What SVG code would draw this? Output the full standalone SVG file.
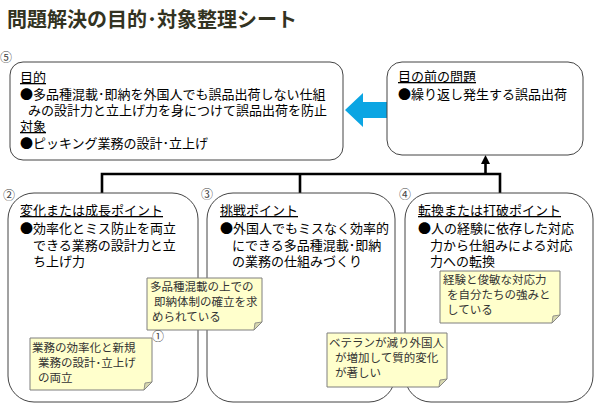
<svg xmlns="http://www.w3.org/2000/svg" width="600" height="415" viewBox="0 0 600 415">
<style>
.t{font-family:"Noto Sans CJK JP","Liberation Sans",sans-serif;font-size:13px;fill:#000}
.h{text-decoration:underline}
.n{font-family:"Noto Sans CJK JP","Liberation Sans",sans-serif;font-size:11.5px;fill:#333}
.c{font-family:"Noto Sans CJK JP","DejaVu Sans",sans-serif;font-size:12px;fill:#444}
.box{fill:#fff;stroke:#444;stroke-width:1}
.note{fill:#ffffcc;stroke:#7f7f7f;stroke-width:1}
.fold{fill:#d8d8b0;stroke:#7f7f7f;stroke-width:0.8}
.con{fill:none;stroke:#000;stroke-width:2.6}
</style>
<rect width="600" height="415" fill="#fff"/>
<text x="7" y="27" font-family="'Noto Sans CJK JP','Liberation Sans',sans-serif" font-size="20" font-weight="bold" fill="#333322">問題解決の目的･対象整理シート</text>

<g id="connectors">
<polyline class="con" points="102,193 102,174 500,174 500,193"/>
<line class="con" x1="300" y1="174" x2="300" y2="193"/>
<line class="con" x1="485.5" y1="174" x2="485.5" y2="163"/>
<polygon points="485.5,155 481,164 490,164" fill="#000"/>
<polygon points="345,110 363,93 363,102 387,102 387,118 363,118 363,127" fill="#0ba5e3"/>
</g>

<g id="n5">
<text class="c" x="0" y="62">⑤</text>
<rect class="box" x="10" y="62" width="333" height="98" rx="13"/>
<text class="t h" x="20" y="82">目的</text>
<text class="t" x="20" y="99">●多品種混載･即納を外国人でも誤品出荷しない仕組</text>
<text class="t" x="28" y="115">みの設計力と立上げ力を身につけて誤品出荷を防止</text>
<text class="t h" x="20" y="131">対象</text>
<text class="t" x="20" y="148">●ピッキング業務の設計･立上げ</text>
</g>

<g id="problem">
<rect class="box" x="387" y="62" width="196" height="93" rx="15"/>
<text class="t h" x="398" y="81">目の前の問題</text>
<text class="t" x="398" y="99">●繰り返し発生する誤品出荷</text>
</g>

<g id="n2">
<text class="c" x="3" y="200">②</text>
<rect class="box" x="8" y="193" width="190" height="209" rx="26"/>
<text class="t h" x="20" y="215">変化または成長ポイント</text>
<text class="t" x="20" y="233">●効率化とミス防止を両立</text>
<text class="t" x="33" y="250">できる業務の設計力と立</text>
<text class="t" x="33" y="266">ち上げ力</text>
</g>

<g id="n3">
<text class="c" x="201" y="199">③</text>
<rect class="box" x="207" y="193" width="188" height="209" rx="26"/>
<text class="t h" x="220" y="215">挑戦ポイント</text>
<text class="t" x="220" y="233">●外国人でもミスなく効率的</text>
<text class="t" x="232" y="250">にできる多品種混載･即納</text>
<text class="t" x="232" y="266">の業務の仕組みづくり</text>
</g>

<g id="n4">
<text class="c" x="399" y="199">④</text>
<rect class="box" x="405" y="193" width="188" height="209" rx="26"/>
<text class="t h" x="418" y="215">転換または打破ポイント</text>
<text class="t" x="418" y="233">●人の経験に依存した対応</text>
<text class="t" x="430" y="250">力から仕組みによる対応</text>
<text class="t" x="430" y="266">力への転換</text>
</g>

<g id="note1">
<path class="note" d="M147,278 H262 V322 L254,330 H147 Z"/>
<path class="fold" d="M262,322 L254,330 L255,323 Z"/>
<text class="n" x="150" y="291">多品種混載の上での</text>
<text class="n" x="154" y="306">即納体制の確立を求</text>
<text class="n" x="152" y="321">められている</text>
<text class="c" x="152" y="341" font-size="10">①</text>
</g>

<g id="note2">
<path class="note" d="M30,338 H152 V382 L144,390 H30 Z"/>
<path class="fold" d="M152,382 L144,390 L145,383 Z"/>
<text class="n" x="32" y="352">業務の効率化と新規</text>
<text class="n" x="38" y="367">業務の設計･立上げ</text>
<text class="n" x="38" y="382">の両立</text>
</g>

<g id="note3">
<path class="note" d="M327,333 H447 V379 L439,387 H327 Z"/>
<path class="fold" d="M447,379 L439,387 L440,380 Z"/>
<text class="n" x="329" y="347">ベテランが減り外国人</text>
<text class="n" x="335" y="362">が増加して質的変化</text>
<text class="n" x="335" y="377">が著しい</text>
</g>

<g id="note4">
<path class="note" d="M440,271 H560 V315 L552,323 H440 Z"/>
<path class="fold" d="M560,315 L552,323 L553,316 Z"/>
<text class="n" x="443" y="284">経験と俊敏な対応力</text>
<text class="n" x="447" y="299">を自分たちの強みと</text>
<text class="n" x="447" y="314">している</text>
</g>
</svg>
